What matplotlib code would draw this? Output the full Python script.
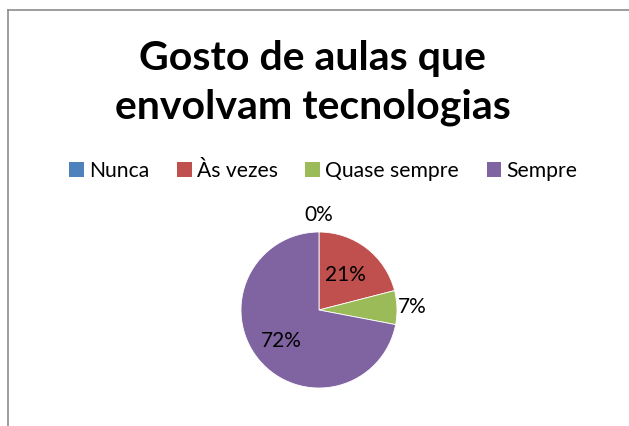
import numpy as np
import matplotlib
matplotlib.use("Agg")
import matplotlib.pyplot as plt
from matplotlib.lines import Line2D
from matplotlib.patches import Patch

# data
categories = ["Nunca", "Às vezes", "Quase sempre", "Sempre"]
shares = [0, 21, 7, 72]
colors = ["#4F81BD", "#C0504D", "#9BBB59", "#8064A2"]
title = "Gosto de aulas que\nenvolvam tecnologias"

# label distance (in radii) per slice, mimicking Excel's "best fit"
label_dist = [1.22, 0.56, 1.2, 0.63]

plt.rcParams['font.family'] = ['Lato', 'DejaVu Sans']

fig = plt.figure(figsize=(6.29, 4.26), dpi=100)
fig.patch.set_facecolor("white")

# chart area border (left + top only visible)
fig.add_artist(Line2D([8/629, 8/629], [0, 1 - 10/426], transform=fig.transFigure,
                      color="#8c8c8c", lw=1.2))
fig.add_artist(Line2D([8/629, 1], [1 - 10/426, 1 - 10/426], transform=fig.transFigure,
                      color="#8c8c8c", lw=1.2))

fig.text(0.497, 1 - 83/426, title, ha="center", va="center", fontsize=29.5,
         fontweight="bold", linespacing=1.36)

handles = [Patch(facecolor=c, edgecolor="none") for c in colors]
fig.legend(handles, categories, loc="center", bbox_to_anchor=(0.514, 1 - 171/426),
           ncol=4, frameon=False, fontsize=15.2, handlelength=0.7, handleheight=0.7,
           handletextpad=0.25, columnspacing=1.3, borderpad=0, borderaxespad=0)

ax = fig.add_axes([(319 - 78) / 629, (426 - 388) / 426, 156 / 629, 156 / 426])
wedges, _ = ax.pie(shares, colors=colors, startangle=90, counterclock=False,
                   radius=1, wedgeprops=dict(linewidth=0.6, edgecolor="white"))
ax.set_xlim(-1, 1)
ax.set_ylim(-1, 1)
ax.set_aspect("equal")
ax.axis("off")

for w, v, d in zip(wedges, shares, label_dist):
    ang = np.deg2rad((w.theta1 + w.theta2) / 2)
    ax.text(d * np.cos(ang), d * np.sin(ang), f"{v}%", ha="center", va="center",
            fontsize=15, color="black", clip_on=False)

fig.savefig("out.png", dpi=100)
